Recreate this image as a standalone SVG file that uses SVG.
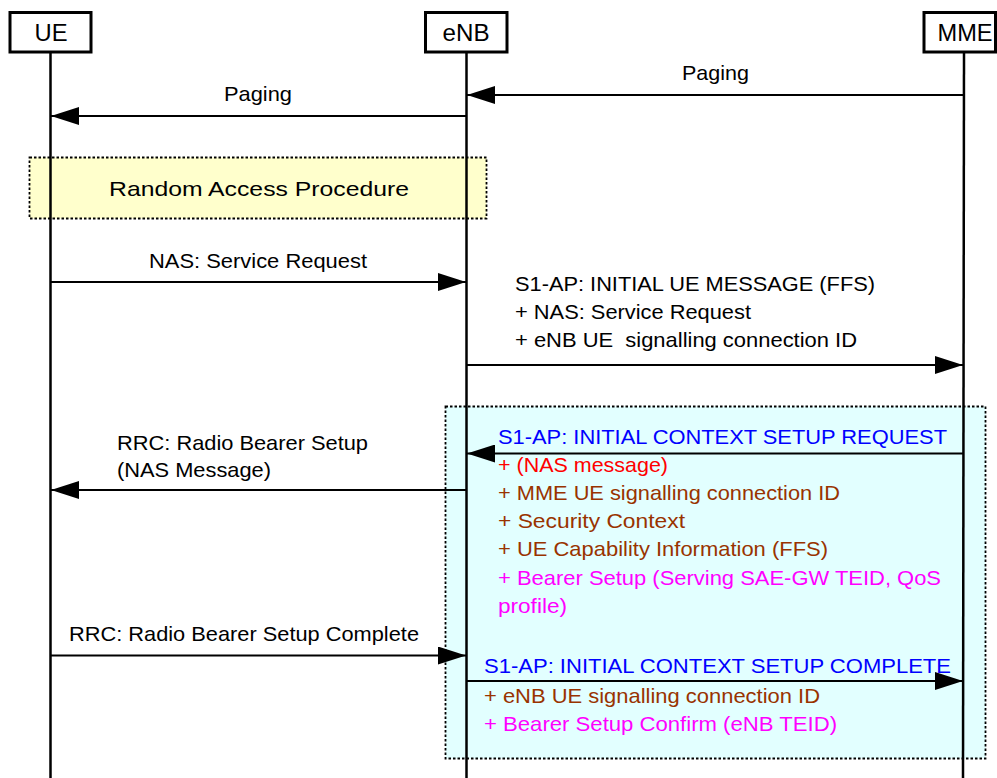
<svg xmlns="http://www.w3.org/2000/svg" width="997" height="778" viewBox="0 0 997 778">
<defs>
<marker id="ah" markerUnits="userSpaceOnUse" markerWidth="28" markerHeight="18" refX="28" refY="9" orient="auto">
<path d="M0,0 L28,9 L0,18 Z" fill="#000"/>
</marker>
<style>
.box{fill:#fff;stroke:#000;stroke-width:3}
.life{stroke:#000;stroke-width:2.5;fill:none}
.msg{stroke:#000;stroke-width:2;fill:none;marker-end:url(#ah)}
.frame{stroke:#000;stroke-width:1.8;stroke-dasharray:2.5,2}
text{font-family:"Liberation Sans",Arial,sans-serif;font-size:21px;fill:#000}
.nt{font-size:24px;text-anchor:middle}
.blue{fill:#0000ff}
.red{fill:#ff0000}
.brown{fill:#993300}
.mag{fill:#ff00ff}
</style>
</defs>
<rect width="997" height="778" fill="#fff"/>

<g id="frames">
<g id="ra">
<rect class="frame" x="29.5" y="157.5" width="457" height="61" fill="#ffffcc"/>
<text x="109" y="196" font-size="23" textLength="300" lengthAdjust="spacingAndGlyphs">Random Access Procedure</text>
</g>
<g id="ctx">
<rect class="frame" x="445.5" y="406.5" width="540" height="352" fill="#e2ffff"/>
</g>
</g>

<g id="UE">
<line class="life" x1="50.5" y1="52" x2="50.5" y2="778"/>
<rect class="box" x="10" y="12.5" width="81" height="39.5"/>
<text class="nt" x="51" y="41" textLength="33" lengthAdjust="spacingAndGlyphs">UE</text>
</g>
<g id="eNB">
<line class="life" x1="466.5" y1="52" x2="466.5" y2="778"/>
<rect class="box" x="425.5" y="12.5" width="81.5" height="39.5"/>
<text class="nt" x="466" y="41" textLength="47" lengthAdjust="spacingAndGlyphs">eNB</text>
</g>
<g id="MME">
<line class="life" x1="964" y1="52" x2="963" y2="778"/>
<rect class="box" x="924" y="12.5" width="71.5" height="39.5"/>
<text class="nt" x="965" y="41" textLength="55" lengthAdjust="spacingAndGlyphs">MME</text>
</g>

<g id="connectors">
<line class="msg" x1="964" y1="95" x2="467" y2="95"/>
<line class="msg" x1="466" y1="116" x2="51" y2="116"/>
<line class="msg" x1="51" y1="282" x2="466" y2="282"/>
<line class="msg" x1="467" y1="365" x2="963" y2="365"/>
<line class="msg" x1="963" y1="453.5" x2="467" y2="453.5"/>
<line class="msg" x1="466" y1="490" x2="51" y2="490"/>
<line class="msg" x1="51" y1="655.5" x2="466" y2="655.5"/>
<line class="msg" x1="467" y1="681" x2="963" y2="681"/>
</g>

<g id="labels">
<text x="682" y="80" textLength="67" lengthAdjust="spacingAndGlyphs">Paging</text>
<text x="224" y="101" textLength="68" lengthAdjust="spacingAndGlyphs">Paging</text>
<text x="149" y="268" textLength="218" lengthAdjust="spacingAndGlyphs">NAS: Service Request</text>
<text x="515" y="291" textLength="360" lengthAdjust="spacingAndGlyphs">S1-AP: INITIAL UE MESSAGE (FFS)</text>
<text x="515" y="319" textLength="236" lengthAdjust="spacingAndGlyphs">+ NAS: Service Request</text>
<text x="515" y="347" textLength="342" lengthAdjust="spacingAndGlyphs" xml:space="preserve">+ eNB UE  signalling connection ID</text>

<text class="blue" x="498" y="444" textLength="449" lengthAdjust="spacingAndGlyphs">S1-AP: INITIAL CONTEXT SETUP REQUEST</text>
<text class="red" x="498" y="472" textLength="170" lengthAdjust="spacingAndGlyphs">+ (NAS message)</text>
<text class="brown" x="498" y="500" textLength="342" lengthAdjust="spacingAndGlyphs">+ MME UE signalling connection ID</text>
<text class="brown" x="498" y="528" textLength="187" lengthAdjust="spacingAndGlyphs">+ Security Context</text>
<text class="brown" x="498" y="556" textLength="330" lengthAdjust="spacingAndGlyphs">+ UE Capability Information (FFS)</text>
<text class="mag" x="498" y="585" textLength="443" lengthAdjust="spacingAndGlyphs">+ Bearer Setup (Serving SAE-GW TEID, QoS</text>
<text class="mag" x="498" y="613" textLength="69" lengthAdjust="spacingAndGlyphs">profile)</text>

<text x="117" y="450" textLength="251" lengthAdjust="spacingAndGlyphs">RRC: Radio Bearer Setup</text>
<text x="117" y="477" textLength="154" lengthAdjust="spacingAndGlyphs">(NAS Message)</text>
<text x="69" y="641" textLength="350" lengthAdjust="spacingAndGlyphs">RRC: Radio Bearer Setup Complete</text>

<text class="blue" x="484" y="673" textLength="467" lengthAdjust="spacingAndGlyphs">S1-AP: INITIAL CONTEXT SETUP COMPLETE</text>
<text class="brown" x="484" y="703" textLength="336" lengthAdjust="spacingAndGlyphs">+ eNB UE signalling connection ID</text>
<text class="mag" x="484" y="731" textLength="353" lengthAdjust="spacingAndGlyphs">+ Bearer Setup Confirm (eNB TEID)</text>
</g>
</svg>
